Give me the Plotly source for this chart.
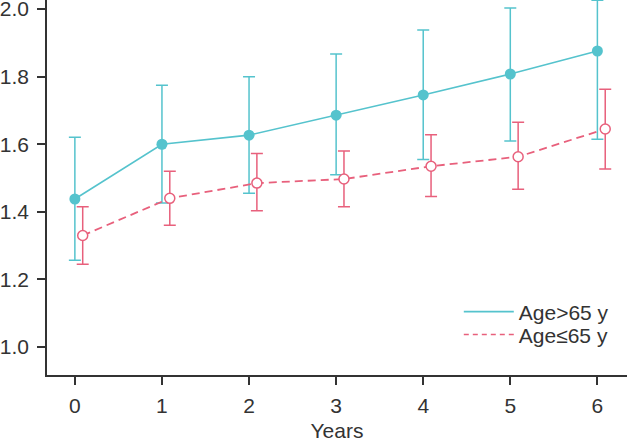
import plotly.graph_objects as go

# ============================================
# DATA
# ============================================
years = [0, 1, 2, 3, 4, 5, 6]

old_mean = [1.438, 1.600, 1.627, 1.686, 1.746, 1.808, 1.876]
old_upper = [1.621, 1.775, 1.800, 1.867, 1.938, 2.003, 2.026]
old_lower = [1.257, 1.426, 1.455, 1.510, 1.555, 1.610, 1.615]

young_mean = [1.330, 1.440, 1.485, 1.497, 1.535, 1.563, 1.645]
young_upper = [1.415, 1.520, 1.573, 1.580, 1.628, 1.665, 1.763]
young_lower = [1.245, 1.360, 1.403, 1.415, 1.445, 1.467, 1.527]

y_ticks = [1.0, 1.2, 1.4, 1.6, 1.8, 2.0]

# ============================================
# STYLE
# ============================================
teal = '#55c3cd'
pink = '#e8607c'
axis_col = '#333333'
dodge = 0.09

fig = go.Figure()

fig.add_trace(go.Scatter(
    x=years,
    y=old_mean,
    name='Age>65 y',
    mode='lines+markers',
    line=dict(color=teal, width=1.6),
    marker=dict(color=teal, size=11, symbol='circle'),
    error_y=dict(
        type='data', symmetric=False,
        array=[u - m for u, m in zip(old_upper, old_mean)],
        arrayminus=[m - l for m, l in zip(old_mean, old_lower)],
        color=teal, thickness=1.5, width=6
    ),
    showlegend=False,
    cliponaxis=False
))

fig.add_trace(go.Scatter(
    x=[y + dodge for y in years],
    y=young_mean,
    name='Age\u226465 y',
    mode='lines+markers',
    line=dict(color=pink, width=1.8, dash='8px,5px'),
    marker=dict(color='white', size=10, symbol='circle',
                line=dict(color=pink, width=1.5)),
    error_y=dict(
        type='data', symmetric=False,
        array=[u - m for u, m in zip(young_upper, young_mean)],
        arrayminus=[m - l for m, l in zip(young_mean, young_lower)],
        color=pink, thickness=1.5, width=6
    ),
    showlegend=False,
    cliponaxis=False
))

# legend-only entries (lines without markers, as in the original)
# two separate legends so the rows can sit closer together
fig.add_trace(go.Scatter(x=[None], y=[None], mode='lines', name='Age>65 y',
                         line=dict(color=teal, width=1.6), legend='legend'))
fig.add_trace(go.Scatter(x=[None], y=[None], mode='lines', name='Age\u226465 y',
                         line=dict(color=pink, width=1.6, dash='5px,4px'),
                         legend='legend2'))

# ============================================
# LAYOUT
# ============================================
leg_style = dict(
    x=0.71, xanchor='left', yanchor='middle',
    bgcolor='rgba(0,0,0,0)',
    font=dict(size=21, color=axis_col),
    itemwidth=50
)

fig.update_layout(
    width=630, height=442,
    paper_bgcolor='white',
    plot_bgcolor='white',
    font=dict(family='Liberation Sans, Arial', size=21, color=axis_col),
    margin=dict(l=47, r=3, t=0, b=67),
    legend=dict(y=0.168, **leg_style),
    legend2=dict(y=0.107, **leg_style),
    showlegend=True
)

fig.update_xaxes(
    range=[-0.32, 6.34],
    tickvals=years,
    automargin=False,
    showgrid=False, zeroline=False,
    showline=True, linecolor=axis_col, linewidth=1.5,
    ticks='outside', ticklen=8, tickwidth=1.5, tickcolor=axis_col,
    ticklabelstandoff=3,
    title=dict(text='Years', font=dict(size=21), standoff=10)
)

fig.update_yaxes(
    range=[0.917, 2.027],
    tickvals=y_ticks,
    tickformat='.1f',
    automargin=False,
    ticklabeloverflow='allow',
    showgrid=False, zeroline=False,
    showline=True, linecolor=axis_col, linewidth=1.5,
    ticks='outside', ticklen=8, tickwidth=1.5, tickcolor=axis_col,
    ticklabelstandoff=4
)

# drop the browser's default body margin so the figure sits at the window corner
fig.write_html("out.html", config={'displayModeBar': False},
               post_script="document.body.style.margin='0';")
